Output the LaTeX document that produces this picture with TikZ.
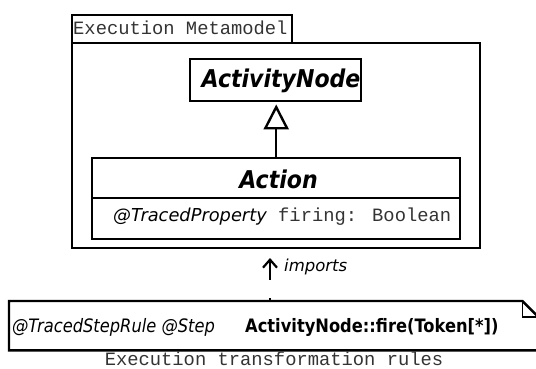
\documentclass[tikz,border=0pt]{standalone}
\usepackage{fontspec}
\newfontfamily\dv{DejaVu Sans}
\newfontfamily\dvn[FakeStretch=0.9]{DejaVu Sans}
\newfontfamily\dvm[FakeStretch=0.88]{DejaVu Sans}
\newfontfamily\mono{Liberation Mono}
\usetikzlibrary{arrows.meta}
\begin{document}
\begin{tikzpicture}[x=1pt,y=-1pt,
  box/.style={draw, line width=2.4pt, inner sep=0pt},
  cls/.style={inner sep=0pt, anchor=base, font=\dvn\bfseries\itshape\fontsize{24.5}{27}\selectfont},
  monotxt/.style={inner sep=0pt, anchor=base west, text=black!80, font=\mono\fontsize{18.8}{21}\selectfont},
  lbl/.style={inner sep=0pt, anchor=base west, font=\dv\itshape\fontsize{16.5}{18}\selectfont}
]
\useasboundingbox (0,0) rectangle (536,369);

% package
\node[box, minimum width=220pt, minimum height=28pt, anchor=north west] (tab) at (71,14) {};
\node[monotxt] (tabtxt) at (73,35) {Execution Metamodel};
\node[box, minimum width=408pt, minimum height=205pt, anchor=north west] (pkg) at (71,42) {};

% ActivityNode
\node[box, minimum width=171pt, minimum height=42pt, anchor=north west] (an) at (189,58) {};
\node[cls] (antxt) at (281,88) {ActivityNode};

% Action
\node[box, minimum width=368pt, minimum height=81pt, anchor=north west] (act) at (91,157) {};
\coordinate (divl) at (91,198);
\draw[line width=2.4pt] (divl) -- (divl -| act.east);
\node[cls] (acttxt) at (278.5,188) {Action};
\node[inner sep=0pt, anchor=base west, font=\dv\itshape\fontsize{17.8}{20}\selectfont] (attr1) at (113,221) {@TracedProperty};
\node[monotxt] (attr2) at (278,221) {firing: Boolean};

% generalization
\draw[line width=2.4pt, -{Triangle[open, length=25pt, width=25pt, fill=white]}, shorten >=2pt]
  (act.north) -- (act.north |- an.south);

% note
\node[inner sep=0pt, minimum width=529pt, minimum height=49pt, anchor=north west] (note) at (9,301) {};
\draw[line width=2.4pt, line join=miter]
  (note.north west) -- ([xshift=-16pt]note.north east) -- ([yshift=-16pt]note.north east)
  -- (note.south east) -- (note.south west) -- cycle;
\draw[line width=1.5pt] ([xshift=-16pt]note.north east) -- ([xshift=-16pt,yshift=-16pt]note.north east)
  -- ([yshift=-16pt]note.north east);
\node[inner sep=0pt, anchor=base west, font=\dvm\itshape\fontsize{18.5}{20}\selectfont] (ntxt1) at (12,332) {@TracedStepRule @Step};
\node[inner sep=0pt, anchor=base west, font=\dvm\bfseries\fontsize{18.5}{20}\selectfont] (ntxt2) at (245,332) {ActivityNode::fire(Token[*])};

% imports dependency
\coordinate (tip) at (270,258);
\draw[line width=2.2pt, dash pattern=on 19pt off 18pt, {Straight Barb[length=8pt,width=14pt]}-]
  (tip) -- (tip |- note.north);
\node[lbl] (imp) at (284,271) {imports};

% caption
\node[monotxt, anchor=base] (cap) at (274,365.5) {Execution transformation rules};
\end{tikzpicture}
\end{document}
